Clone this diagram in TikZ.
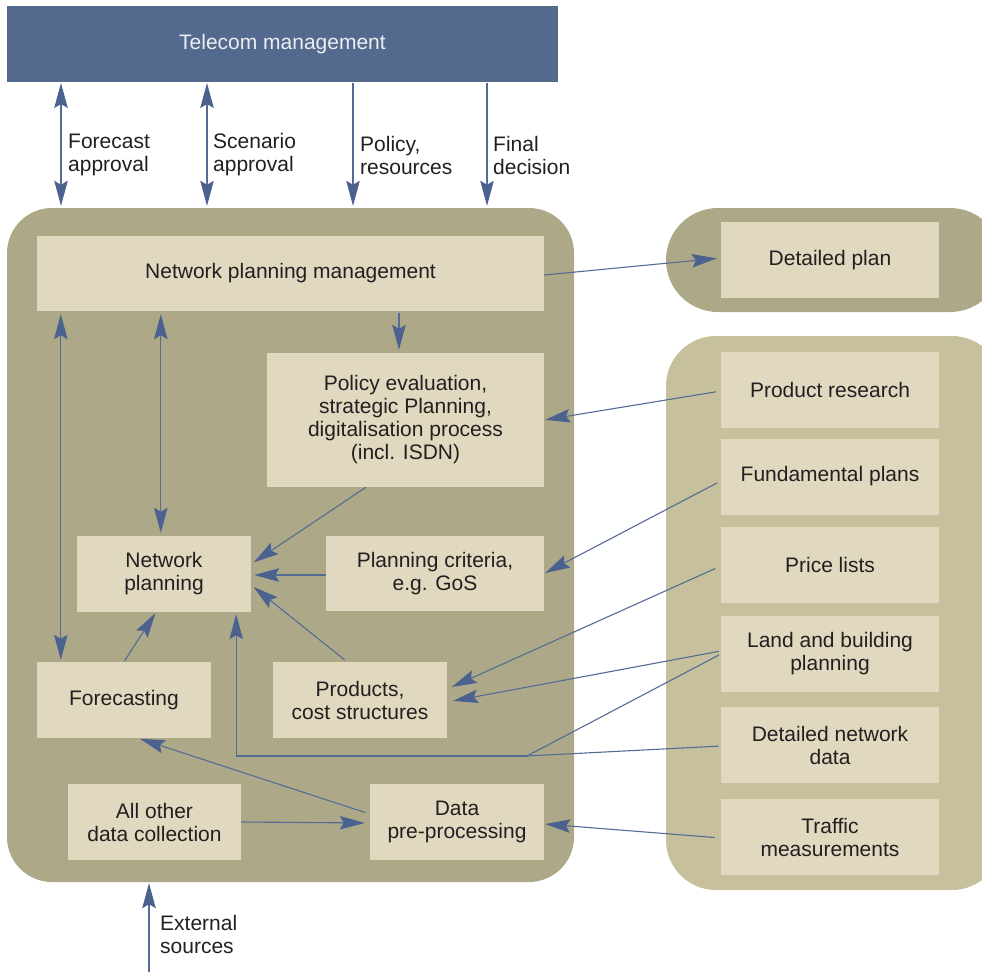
\documentclass[tikz,border=0pt]{standalone}
\usepackage{fontspec}
\setmainfont{Liberation Sans}
\usetikzlibrary{arrows.meta,calc}
\definecolor{topblue}{RGB}{84,105,142}
\definecolor{groupdark}{RGB}{173,169,136}
\definecolor{grouplight}{RGB}{198,193,156}
\definecolor{boxfill}{RGB}{224,217,192}
\definecolor{arrowblue}{RGB}{84,107,150}
\definecolor{tipblue}{RGB}{76,98,142}
\definecolor{inktext}{RGB}{35,31,32}
\tikzset{
  box/.style={fill=boxfill, draw=none, inner sep=0pt, align=center,
    text=inktext, font=\fontsize{21}{23}\selectfont},
  rbox/.style={box, minimum width=218pt, minimum height=76pt},
  sbox/.style={box, minimum width=174pt, minimum height=76pt},
  lbl/.style={anchor=west, align=left, inner sep=0pt, text=inktext,
    font=\fontsize{21}{23}\selectfont},
  link/.style={draw=arrowblue, line width=1.1pt},
  tipshape/.tip={Stealth[length=25pt,width=13.5pt,inset=4pt,color=tipblue]},
  arr/.style={link, -tipshape},
  darr/.style={link, tipshape-tipshape}
}
\begin{document}
\begin{tikzpicture}[x=1pt,y=-1pt]
\clip (0,0) rectangle (982,972);
\useasboundingbox (0,0) rectangle (982,972);

% management bar
\node[fill=topblue, inner sep=0pt, minimum width=551pt, minimum height=76pt,
  text={rgb,255:red,235;green,238;blue,243}, font=\fontsize{21}{23}\selectfont]
  (tm) at (282.5,44) {Telecom management};

% group backgrounds
\fill[groupdark, rounded corners=45pt] (7,208) rectangle (574,882);
\node[inner sep=0pt, minimum width=567pt, minimum height=674pt] (plan) at (290.5,545) {};
\fill[groupdark, rounded corners=52pt] (666,208) rectangle (1002,312);
\fill[grouplight, rounded corners=50pt] (666,336) rectangle (1002,890);

% planning boxes
\node[box, minimum width=507pt, minimum height=75pt] (npm) at (290.5,273.5) {Network planning management};
\node[box, minimum width=277pt, minimum height=134pt] (pol) at (405.5,420)
  {Policy evaluation,\\strategic Planning,\\digitalisation process\\(incl. ISDN)};
\node[sbox] (np) at (164,574) {Network\\planning};
\node[box, minimum width=218pt, minimum height=75pt] (pc) at (435,573.5) {Planning criteria,\\e.g. GoS};
\node[sbox] (fc) at (124,700) {Forecasting};
\node[sbox] (pr) at (360,700) {Products,\\cost structures};
\node[box, minimum width=173pt, minimum height=76pt] (adc) at (154.5,822) {All other\\data collection};
\node[sbox] (dpp) at (457,822) {Data\\pre-processing};

% input boxes
\node[rbox] (dp) at (830,260) {Detailed plan};
\node[rbox] (prs) at (830,390) {Product research};
\node[rbox] (fp) at (830,476.5) {Fundamental plans};
\node[rbox] (pl) at (830,565) {Price lists};
\node[rbox] (lb) at (830,654) {Land and building\\planning};
\node[rbox] (dnd) at (830,745) {Detailed network\\data};
\node[rbox] (tms) at (830,837) {Traffic\\measurements};

% links to management
\coordinate (a1) at (61,83);
\coordinate (a2) at (207,83);
\coordinate (a3) at (353,83);
\coordinate (a4) at (487,83);
\draw[darr] (a1) -- ([yshift=2pt]a1 |- plan.north);
\draw[darr] (a2) -- ([yshift=2pt]a2 |- plan.north);
\draw[arr] (a3) -- ([yshift=2pt]a3 |- plan.north);
\draw[arr] (a4) -- ([yshift=2pt]a4 |- plan.north);
\node[lbl] (l1) at (68,155) {Forecast\\approval};
\node[lbl] (l2) at (213,155) {Scenario\\approval};
\node[lbl] (l3) at (360,155) {Policy,\\resources};
\node[lbl] (l4) at (493,155) {Final\\decision};

% internal flows (yshift is in page direction: positive = upward)
\draw[arr, shorten >=4pt] ([yshift=-1.5pt]npm.east) -- ([yshift=2pt]dp.west);
\draw[arr, shorten <=2pt, shorten >=3pt] ([xshift=-6.5pt]pol.north |- npm.south) -- ([xshift=-6.5pt]pol.north);
\draw[arr, shorten <=5pt, shorten >=1pt] ([yshift=-1pt]prs.west) -- (pol.east);
\draw[arr, shorten <=4pt, shorten >=1pt] ([yshift=-4.5pt]fp.west) -- (pc.east);
\draw[arr, shorten <=6pt, shorten >=5pt] ([yshift=-1pt]pl.west) -- ([yshift=11pt]pr.east);
\draw[arr, shorten <=2pt, shorten >=6pt] ([yshift=3pt]lb.west) -- ([yshift=-2pt]pr.east);
\coordinate (j) at (527,756);
\draw[link, shorten <=2pt] (lb.west) -- (j);
\draw[link, shorten <=2pt] ([yshift=-1pt]dnd.west) -- (j);
\draw[arr, shorten >=2pt] (j) -| ([xshift=-15pt]np.south east);
\draw[arr, shorten <=6pt, shorten >=1pt] ([yshift=-1pt]tms.west) -- ([yshift=-2pt]dpp.east);
\draw[arr, shorten >=3pt] ([xshift=-39.5pt]pol.south) -- ([yshift=10pt]np.east);
\draw[arr, shorten >=3pt] ([yshift=-1.5pt]pc.west) -- ([yshift=-1pt]np.east);
\draw[arr, shorten <=3pt, shorten >=3pt] ([xshift=-13pt]pr.north) -- ([yshift=-11pt]np.east);
\draw[arr, shorten <=1pt, shorten >=1pt] (fc.north) -- ([xshift=-8pt]np.south);
\draw[darr, shorten <=3pt, shorten >=2pt] ([xshift=24pt]npm.south west) -- ([xshift=24pt]fc.north west);
\draw[darr, shorten <=3pt, shorten >=3pt] ([xshift=124pt]npm.south west) -- ([xshift=124pt]npm.south west |- np.north);
\draw[arr, shorten <=5pt, shorten >=2pt] ([yshift=8pt]dpp.west) -- ([xshift=14pt]fc.south);
\draw[arr, shorten >=5pt] (adc.east) -- ([yshift=-1pt]dpp.west);

% external input
\coordinate (ext) at (149,972);
\draw[arr, shorten >=1pt] (ext) -- (ext |- plan.south);
\node[lbl] (l5) at (160,934) {External\\sources};
\end{tikzpicture}
\end{document}
